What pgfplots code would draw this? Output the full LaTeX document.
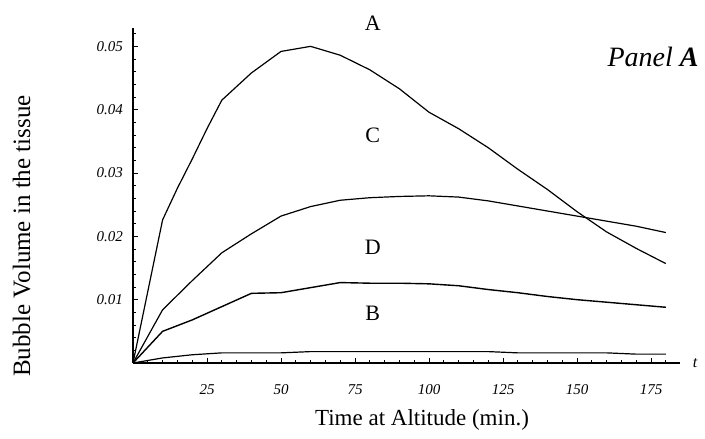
\documentclass[border=0pt]{standalone}
\usepackage{fontspec}
\setmainfont{Liberation Serif}
\usepackage{pgfplots}
\pgfplotsset{compat=1.18}

\begin{document}
\begin{tikzpicture}
% page size: 705x438 px at 0.5pt per px, axis origin at px (133,363)
\path[use as bounding box] (-66.5pt,-37.5pt) rectangle (286pt,181.5pt);
\begin{axis}[
    at={(0pt,0pt)}, anchor=south west,
    scale only axis,
    width=273.5pt, height=167.5pt,
    xmin=0, xmax=184.8,
    ymin=0, ymax=0.0529,
    axis lines=left,
    axis line style={-, line width=0.7pt},
    clip=false,
    xtick={25,50,75,100,125,150,175},
    xticklabels={25,50,75,100,125,150,175},
    minor xtick={5,10,...,180},
    ytick={0.01,0.02,0.03,0.04,0.05},
    yticklabels={0.01,0.02,0.03,0.04,0.05},
    minor ytick={0.002,0.004,0.006,0.008,0.012,0.014,0.016,0.018,0.022,0.024,0.026,0.028,0.032,0.034,0.036,0.038,0.042,0.044,0.046,0.048,0.052},
    scaled y ticks=false,
    tick align=inside,
    major tick length=2.4pt,
    minor tick length=1.4pt,
    tick style={black, line width=0.5pt},
    /pgf/number format/assume math mode=true,
    ticklabel style={font=\fontsize{7.5}{8}\selectfont\itshape},
    xticklabel style={anchor=north, text height=5.5pt, text depth=0pt, yshift=-6.5pt},
    yticklabel style={xshift=-1.5pt},
]
% A
\addplot[black, line width=0.6pt] coordinates {
    (0,0) (10,0.0226) (15,0.0276) (20,0.0322) (25,0.0370) (30,0.0415) (40,0.0458) (50,0.0492) (60,0.0500)
    (70,0.0486) (80,0.0463) (90,0.0433) (100,0.0396) (110,0.0370) (120,0.0340)
    (130,0.0306) (140,0.0274) (150,0.0239) (160,0.0207) (170,0.0181) (180,0.0157)
};
% C
\addplot[black, line width=0.6pt] coordinates {
    (0,0) (10,0.0084) (20,0.0130) (30,0.0174) (40,0.0204) (50,0.0232) (60,0.0247)
    (70,0.0257) (80,0.0261) (90,0.0263) (100,0.0264) (110,0.0262) (120,0.0256)
    (130,0.0248) (140,0.0240) (150,0.0232) (160,0.0224) (170,0.0216) (180,0.0206)
};
% D
\addplot[black, line width=0.7pt] coordinates {
    (0,0) (10,0.0050) (20,0.0068) (30,0.0089) (40,0.0110) (50,0.0111) (60,0.0119)
    (70,0.0127) (80,0.0126) (90,0.0126) (100,0.0125) (110,0.0122) (120,0.0116)
    (130,0.0111) (140,0.0105) (150,0.0100) (160,0.0096) (170,0.0092) (180,0.0088)
};
% B
\addplot[black, line width=0.6pt] coordinates {
    (0,0) (10,0.0008) (20,0.0013) (30,0.0016) (50,0.0016) (60,0.0018) (120,0.0018)
    (130,0.0016) (160,0.0016) (170,0.0014) (180,0.0014)
};

\node[font=\fontsize{11}{12}\selectfont] at (axis cs:81,0.0537) {A};
\node[font=\fontsize{11}{12}\selectfont] at (axis cs:81,0.0360) {C};
\node[font=\fontsize{11}{12}\selectfont] at (axis cs:81,0.0182) {D};
\node[font=\fontsize{11}{12}\selectfont] at (axis cs:81,0.0079) {B};
\node[font=\fontsize{14}{16}\selectfont\itshape] at (axis cs:175.7,0.0483) {Panel \textbf{A}};
\end{axis}
\node[font=\fontsize{8}{9}\selectfont\itshape] at (281pt,0pt) {t};
\node[font=\fontsize{11.5}{13}\selectfont] at (144.5pt,-28.5pt) {Time at Altitude (min.)};
\node[font=\fontsize{12.5}{14}\selectfont, rotate=90] at (-55.7pt,63.5pt) {Bubble Volume in the tissue};
\end{tikzpicture}
\end{document}
